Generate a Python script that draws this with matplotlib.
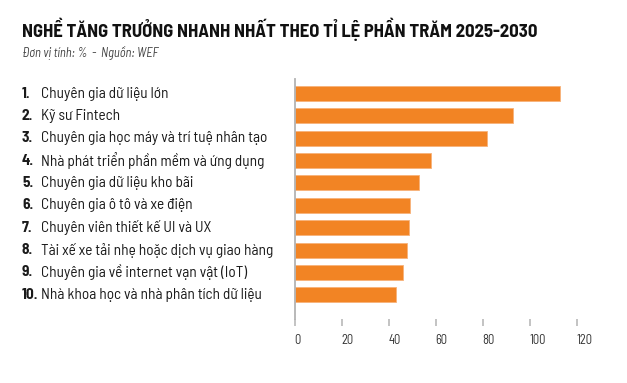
import matplotlib
matplotlib.use('Agg')
import matplotlib.pyplot as plt

# data (% growth 2025-2030, source WEF)
ranks = ['1.', '2.', '3.', '4.', '5.', '6.', '7.', '8.', '9.', '10.']
jobs = [
    'Chuyên gia dữ liệu lớn',
    'Kỹ sư Fintech',
    'Chuyên gia học máy và trí tuệ nhân tạo',
    'Nhà phát triển phần mềm và ứng dụng',
    'Chuyên gia dữ liệu kho bãi',
    'Chuyên gia ô tô và xe điện',
    'Chuyên viên thiết kế UI và UX',
    'Tài xế xe tải nhẹ hoặc dịch vụ giao hàng',
    'Chuyên gia về internet vạn vật (IoT)',
    'Nhà khoa học và nhà phân tích dữ liệu',
]
growth = [113, 93, 82, 58, 53, 49, 48.5, 48, 46, 43]
xticks = [0, 20, 40, 60, 80, 100, 120]

title = 'NGHỀ TĂNG TRƯỞNG NHANH NHẤT THEO TỈ LỆ PHẦN TRĂM 2025-2030'
subtitle = 'Đơn vị tính: %  -  Nguồn: WEF'

cond = ['Barlow Semi Condensed', 'Roboto', 'DejaVu Sans']
orange = '#F28424'
gray = '#b3b3b3'

fig = plt.figure(figsize=(6.27, 3.83), dpi=100, facecolor='white')
ax = fig.add_axes([0.470, 0.1663, 0.4498, 0.627])

pos = list(range(len(growth)))
ax.barh(pos, growth, height=0.67, color=orange, edgecolor='#f7b27a', linewidth=0.6)
ax.set_xlim(0, 120)
ax.set_ylim(10.1, -0.645)

for s in ['top', 'right', 'bottom']:
    ax.spines[s].set_visible(False)
ax.spines['left'].set_color(gray)
ax.spines['left'].set_linewidth(1.3)
ax.set_yticks([])
ax.set_xticks(xticks)
ax.set_xticklabels([str(t) for t in xticks], ha='left', family=cond,
                   fontsize=9, color='#333333')
ax.tick_params(axis='x', direction='out', length=5.3, width=1.1, color=gray, pad=5)

# left-hand labels: bold rank + job name
for i, (r, j) in enumerate(zip(ranks, jobs)):
    y = ax.transData.transform((0, i))[1] / fig.bbox.height
    fig.text(22 / 627, y, r, family=cond, fontweight='bold', fontsize=11,
             color='#1a1a1a', va='center', ha='left')
    fig.text(41 / 627, y, j, family=cond, fontsize=11, color='#1a1a1a',
             va='center', ha='left')

fig.text(22 / 627, 1 - 36.7 / 383, title, family=cond, fontweight='bold',
         fontsize=13.4, color='#111111', va='baseline', ha='left')
fig.text(22 / 627, 1 - 57 / 383, subtitle, family=cond, style='italic',
         fontsize=9, color='#444444', va='baseline', ha='left')

fig.savefig('out.png', dpi=100, facecolor='white')
